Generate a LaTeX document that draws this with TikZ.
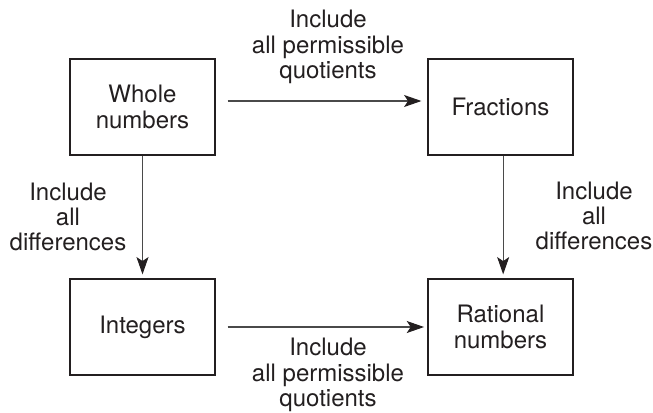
\documentclass[tikz,border=0pt]{standalone}
\usepackage{fontspec}
\setmainfont{TeX Gyre Heros}
\usetikzlibrary{arrows.meta}
\definecolor{ink}{HTML}{231F20}
\definecolor{edge}{HTML}{4A4A4A}

\begin{document}
\begin{tikzpicture}[x=0.75pt,y=-0.75pt,text=ink,>={Stealth[length=13pt,width=9pt,inset=3pt,color=ink]},
  set/.style={draw=ink,line width=0.9pt,minimum width=108.75pt,minimum height=72pt,
    inner sep=0pt,align=center,font=\fontsize{18}{19}\selectfont},
  lbl/.style={inner sep=0pt,align=center,font=\fontsize{18}{19}\selectfont},
  ext/.style={->,draw=edge,line width=0.8pt}]
  \useasboundingbox (0,0) rectangle (653,412);

  % the four number sets
  \node[set] (whole) at (142.5,107) {Whole\\numbers};
  \node[set] (frac) at (500.5,107) {Fractions};
  \node[set] (integ) at (142.5,327) {Integers};
  \node[set] (rat) at (500.5,327) {Rational\\numbers};

  % extensions
  \draw[ext,shorten <=9pt,shorten >=4.5pt] ([yshift=4.5pt]whole.east) -- ([yshift=4.5pt]frac.west);
  \draw[ext,shorten <=9pt,shorten >=2.5pt] (integ) -- (rat);
  \draw[ext,shorten >=3pt] (whole) -- (integ);
  \draw[ext,shorten >=3pt] ([xshift=2pt]frac.south) -- ([xshift=2pt]rat.north);

  \node[lbl] (qtop) at (328,47) {Include\\all permissible\\quotients};
  \node[lbl] (qbot) at (328,375) {Include\\all permissible\\quotients};
  \node[lbl] (dleft) at (68,217) {Include\\all\\differences};
  \node[lbl] (dright) at (594,216) {Include\\all\\differences};
\end{tikzpicture}
\end{document}
